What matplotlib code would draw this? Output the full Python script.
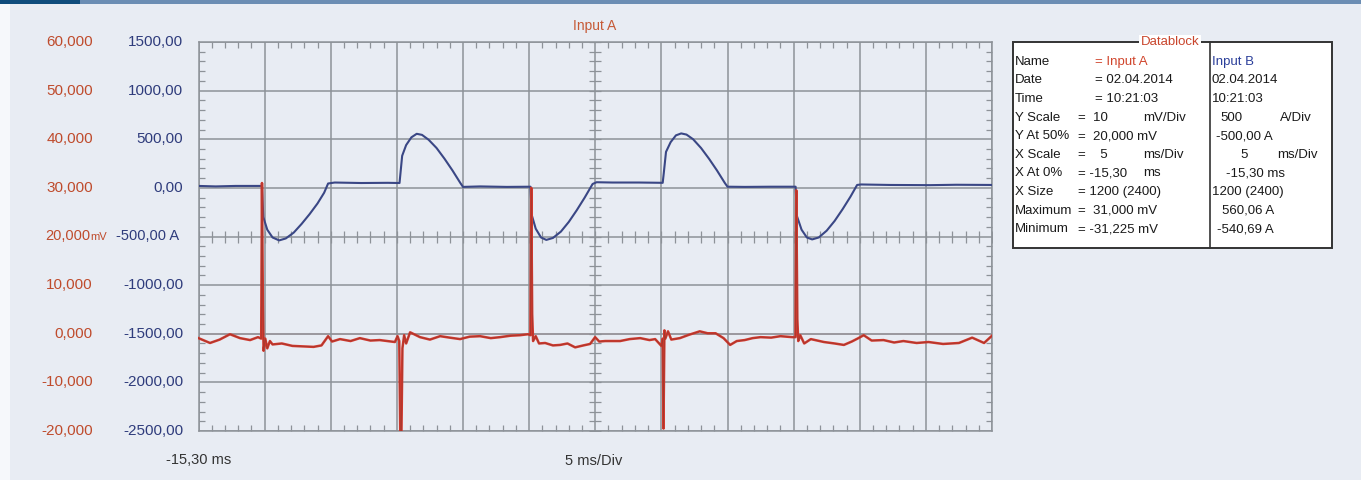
import numpy as np
import matplotlib
matplotlib.use('Agg')
import matplotlib.pyplot as plt
from matplotlib.patches import Rectangle

plt.rcParams['font.family'] = ['Liberation Sans', 'DejaVu Sans']

# ---- data ----
# Input B (blue, current in A), time in ms
blue_t = [-15.30, -14.00, -12.50, -11.00, -10.50,
          -10.40, -10.10, -9.70, -9.20, -8.70, -8.10, -7.50, -6.90, -6.30, -5.80, -5.50,
          -5.00, -3.00, -1.00, -0.10,
          -0.05, 0.10, 0.40, 0.80, 1.20, 1.60, 2.10, 2.70, 3.30, 3.90, 4.50, 4.70,
          6.00, 8.00, 9.80,
          9.90, 10.20, 10.60, 11.00, 11.50, 12.10, 12.70, 13.30, 13.90, 14.50, 14.80,
          16.00, 18.00, 19.80,
          19.88, 20.05, 20.40, 20.80, 21.20, 21.60, 22.10, 22.70, 23.30, 23.90, 24.50, 24.70,
          26.00, 28.00, 29.85,
          29.95, 30.30, 30.70, 31.10, 31.60, 32.20, 32.80, 33.40, 34.00, 34.50, 34.80,
          37.00, 40.00, 42.00, 44.70]
blue_a = [20, 15, 20, 20, 20,
          -300, -430, -510, -540, -520, -460, -370, -270, -160, -50, 45,
          55, 50, 52, 50,
          120, 330, 440, 520, 556, 545, 495, 410, 300, 180, 50, 10,
          15, 10, 12,
          -280, -420, -510, -535, -515, -450, -350, -230, -100, 40, 58,
          55, 55, 52,
          150, 370, 470, 540, 560, 548, 500, 410, 300, 180, 50, 12,
          10, 12, 12,
          -290, -430, -510, -530, -510, -440, -340, -220, -90, 30, 35,
          30, 28, 32, 30]

# Input A (red, voltage in mV)
red_t = [-15.30, -14.43, -13.70, -12.92, -12.16, -11.40, -10.80, -10.56, -10.50, -10.43,
         -10.38, -10.25, -10.10, -9.90, -9.70, -9.00, -8.20, -7.40, -6.60, -6.00,
         -5.50, -5.20, -4.60, -3.80, -3.10, -2.30, -1.60, -0.45, -0.25, -0.12,
         0.00, 0.12, 0.25, 0.40, 0.70, 1.45, 2.20, 2.97, 3.70, 4.48,
         5.20, 5.99, 6.80, 7.50, 8.30, 9.01, 9.62, 9.80, 9.86, 9.93,
         10.00, 10.20, 10.45, 10.91, 11.50, 12.04, 12.60, 13.18, 13.80, 14.31,
         14.69, 15.00, 15.45, 16.58, 17.30, 18.10, 18.80, 19.23, 19.70, 19.80,
         19.86, 19.93, 20.00, 20.20, 20.45, 21.10, 21.80, 22.60, 23.20, 23.80,
         24.40, 24.90, 25.40, 26.00, 26.60, 27.20, 28.00, 28.70, 29.60, 29.84,
         29.90, 29.98, 30.05, 30.20, 30.50, 31.00, 31.99, 32.80, 33.50, 34.10,
         34.60, 35.00, 35.60, 36.50, 37.30, 38.00, 39.00, 39.90, 41.00, 42.20,
         43.20, 44.10, 44.70]
red_mv = [-0.9, -1.9, -1.2, -0.1, -0.9, -1.3, -0.7, -1.0, 31.0, 6.0,
          -3.5, -1.0, -3.0, -1.5, -2.2, -2.0, -2.5, -2.6, -2.7, -2.4,
          -0.5, -1.6, -1.1, -1.5, -0.9, -1.4, -1.3, -1.7, -0.5, -1.5,
          -31.2, -3.0, -0.3, -2.0, 0.3, -0.7, -1.2, -0.5, -0.8, -1.1,
          -0.6, -0.5, -0.9, -0.7, -0.4, -0.3, -0.1, -0.3, 30.0, 4.0,
          -1.5, -0.5, -2.0, -1.9, -2.4, -2.3, -2.0, -2.8, -2.4, -2.1,
          -0.7, -1.6, -1.5, -1.5, -1.1, -0.9, -1.3, -1.1, -2.5, -1.0,
          -19.5, 0.7, -1.0, 0.5, -1.2, -0.9, -0.2, 0.5, 0.1, 0.1,
          -0.9, -2.3, -1.5, -1.3, -0.9, -0.7, -0.8, -0.5, -0.7, -0.7,
          29.5, 3.0, -1.5, -0.3, -2.0, -1.1, -1.7, -2.0, -2.3, -1.6,
          -0.9, -0.3, -1.4, -1.3, -1.8, -1.5, -1.9, -1.7, -2.1, -1.9,
          -0.8, -1.9, -0.4]

# axis tick labels (left side, two channels)
red_ticks = [60, 50, 40, 30, 20, 10, 0, -10, -20]
red_labels = ['60,000', '50,000', '40,000', '30,000', '20,000', '10,000', '0,000', '-10,000', '-20,000']
blue_ticks = [1500, 1000, 500, 0, -500, -1000, -1500, -2000, -2500]
blue_labels = ['1500,00', '1000,00', '500,00', '0,00', '-500,00 A', '-1000,00', '-1500,00', '-2000,00', '-2500,00']

# datablock contents
db_names = ['Name', 'Date', 'Time', 'Y Scale', 'Y At 50%', 'X Scale', 'X At 0%', 'X Size', 'Maximum', 'Minimum']
db_a_vals = ['= Input A', '= 02.04.2014', '= 10:21:03', '=  10', '=  20,000 mV', '=    5', '= -15,30',
             '= 1200 (2400)', '=  31,000 mV', '= -31,225 mV']
db_a_units = ['', '', '', 'mV/Div', '', 'ms/Div', 'ms', '', '', '']
db_b_vals = ['Input B', '02.04.2014', '10:21:03', '500', '-500,00 A', '5', '-15,30 ms',
             '1200 (2400)', '560,06 A', '-540,69 A']
db_b_units = ['', '', '', 'A/Div', '', 'ms/Div', '', '', '', '']

W, H = 1361, 480
bg = '#e8ecf3'
grid_col = '#8d9298'
red_col = '#d2382d'
red_txt = '#bf4b2c'
blue_col = '#3a4785'
blue_txt = '#2f3c7c'
db_fs = 9.5

def fx(px):
    return px / W

def fy(py):
    return 1 - py / H

fig = plt.figure(figsize=(W / 100, H / 100), dpi=100, facecolor=bg)

# header bar + white strip at left
fig.add_artist(Rectangle((0, fy(4)), 1, 4 / H, transform=fig.transFigure, color='#6b8db3', lw=0))
fig.add_artist(Rectangle((0, fy(4)), fx(80), 4 / H, transform=fig.transFigure, color='#0f4c7c', lw=0))
fig.add_artist(Rectangle((0, 0), fx(10), fy(4), transform=fig.transFigure, color='#f6f8fb', lw=0))

L, R, T, B = 198.5, 992, 42, 431
ax = fig.add_axes([fx(L), fy(B), fx(R - L), (B - T) / H])
ax.set_facecolor(bg)
ax2 = ax.twinx()

ax.set_xlim(-15.3, 44.7)
ax.set_ylim(-2500, 1500)
ax2.set_ylim(-20, 60)

xmaj = -15.3 + 5 * np.arange(13)
xmin = -15.3 + np.arange(61)
ymaj = np.arange(-2500, 1501, 500)
ymin = np.arange(-2500, 1501, 100)
ax.set_xticks(xmaj)
ax.set_xticks(xmin, minor=True)
ax.set_yticks(ymaj)
ax.set_yticks(ymin, minor=True)
ax.grid(True, which='major', color=grid_col, lw=1.1, zorder=0)
ax.tick_params(which='both', direction='in', top=True, right=True, bottom=True, left=True,
               labelbottom=False, labelleft=False, labelright=False, labeltop=False, color=grid_col)
ax.tick_params(which='major', length=0)
ax.tick_params(which='minor', length=4, width=0.9)
for s in ax.spines.values():
    s.set_color(grid_col)
    s.set_linewidth(1.1)
ax2.set_yticks([])
for s in ax2.spines.values():
    s.set_visible(False)

# zero line of channel A is tinted
ax.axhline(-1500, color='#c9a0a4', lw=1.1, zorder=1)

# centre cross with small ticks
ax.plot(xmin, np.full(len(xmin), -500.0), ls='none', marker='|', ms=8, mew=0.9, color=grid_col, zorder=1)
ax.plot(np.full(len(ymin), 14.7), ymin, ls='none', marker='_', ms=8, mew=0.9, color=grid_col, zorder=1)

# traces
ax.plot(blue_t, blue_a, color=blue_col, lw=1.5, zorder=3)
ax2.plot(red_t, red_mv, color=red_col, lw=1.8, zorder=3)
ax2.plot(red_t, red_mv, color='#7e3a2e', lw=0.5, alpha=0.6, zorder=4)

# left labels, two columns
for v, lab in zip(red_ticks, red_labels):
    if v == 20:
        # centre value carries the unit
        ax2.text((45 - L) / (R - L), v, lab, transform=ax2.get_yaxis_transform(),
                 ha='left', va='center', fontsize=10.5, color=red_txt)
        ax2.text((90 - L) / (R - L), v, 'mV', transform=ax2.get_yaxis_transform(),
                 ha='left', va='center', fontsize=8, color=red_txt)
    else:
        ax2.text((93 - L) / (R - L), v, lab, transform=ax2.get_yaxis_transform(),
                 ha='right', va='center', fontsize=11, color=red_txt)
for v, lab in zip(blue_ticks, blue_labels):
    if lab.endswith('A'):
        ax.text((116 - L) / (R - L), v, lab, transform=ax.get_yaxis_transform(),
                ha='left', va='center', fontsize=10.5, color=blue_txt)
    else:
        ax.text((183 - L) / (R - L), v, lab, transform=ax.get_yaxis_transform(),
                ha='right', va='center', fontsize=11, color=blue_txt)

fig.text(fx(166), fy(460), '-15,30 ms', ha='left', va='center', fontsize=10.5, color='#333333')
fig.text(fx(594), fy(461), '5 ms/Div', ha='center', va='center', fontsize=10.5, color='#333333')
fig.text(fx(595), fy(26), 'Input A', ha='center', va='center', fontsize=10, color='#c65a36')

# datablock box
bx0, bx1, by0, by1 = 1013, 1332, 42, 248
fig.add_artist(Rectangle((fx(bx0), fy(by1)), fx(bx1 - bx0), (by1 - by0) / H,
                         transform=fig.transFigure, facecolor='white', edgecolor='#333333', lw=1.4))
fig.add_artist(plt.Line2D([fx(1210), fx(1210)], [fy(by0), fy(by1)], transform=fig.transFigure,
                          color='#333333', lw=1.2))
fig.text(fx(1170), fy(42), 'Datablock', ha='center', va='center', fontsize=db_fs, color='#c9452c',
         bbox=dict(facecolor='white', edgecolor='none', pad=1.0))

db_a_x = [1095, 1095, 1095, 1078, 1078, 1078, 1078, 1078, 1078, 1078]
db_b_x = [1212, 1212, 1212, 1220, 1216, 1240, 1226, 1212, 1222, 1217]
db_b_ux = [0, 0, 0, 1280, 0, 1277, 0, 0, 0, 0]
for i, name in enumerate(db_names):
    y = fy(61.7 + i * 18.63)
    fig.text(fx(1015), y, name, ha='left', va='center', fontsize=db_fs, color='#1a1a1a')
    fig.text(fx(db_a_x[i]), y, db_a_vals[i], ha='left', va='center', fontsize=db_fs,
             color='#d0452c' if i == 0 else '#1a1a1a')
    if db_a_units[i]:
        fig.text(fx(1143), y, db_a_units[i], ha='left', va='center', fontsize=db_fs, color='#1a1a1a')
    fig.text(fx(db_b_x[i]), y, db_b_vals[i], ha='left', va='center', fontsize=db_fs,
             color='#2b3f9a' if i == 0 else '#1a1a1a')
    if db_b_units[i]:
        fig.text(fx(db_b_ux[i]), y, db_b_units[i], ha='left', va='center', fontsize=db_fs, color='#1a1a1a')

plt.savefig('out.png', dpi=100, facecolor=bg)
